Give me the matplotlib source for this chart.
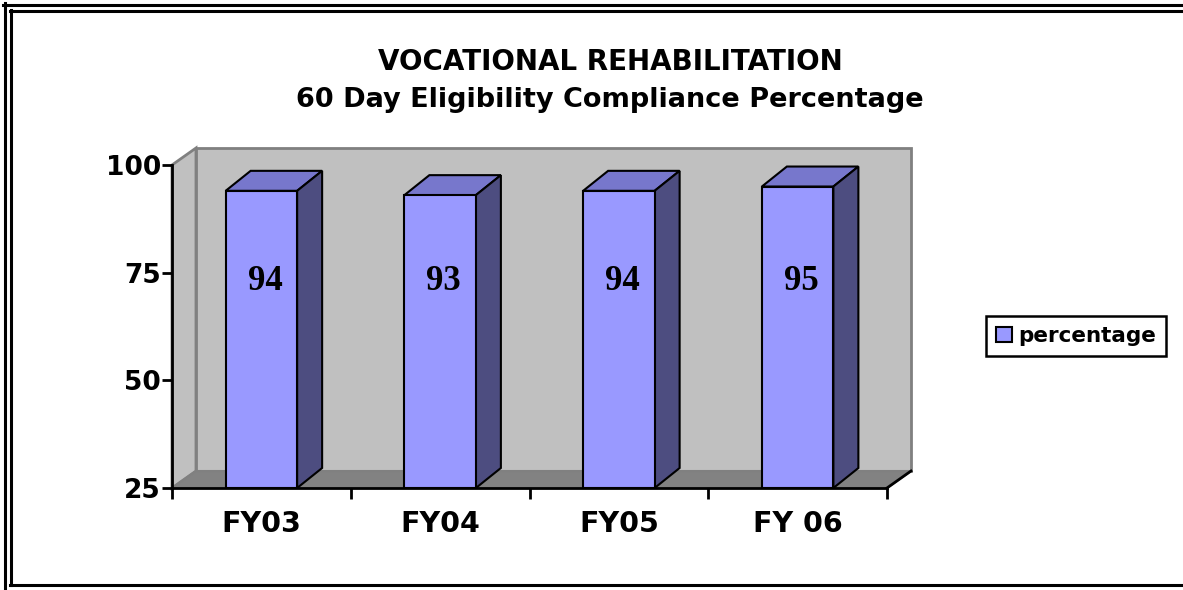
import numpy as np
import matplotlib
matplotlib.use('Agg')
import matplotlib.pyplot as plt
from matplotlib.patches import Polygon, Rectangle
from matplotlib.lines import Line2D

# Chart data
categories = ['FY03', 'FY04', 'FY05', 'FY06']
tick_labels = ['FY03', 'FY04', 'FY05', 'FY 06']
percentage = [94, 93, 94, 95]
y_ticks = [25, 50, 75, 100]

title_line1 = 'VOCATIONAL REHABILITATION'
title_line2 = '60 Day Eligibility Compliance Percentage'

plt.rcParams['font.family'] = ['DejaVu Sans']

W, H = 1183, 590
fig = plt.figure(figsize=(W / 100, H / 100), dpi=100)

# front plane of the 3D box, in figure pixels
left_px, right_px, top_px, bottom_px = 172, 887, 165, 488
ax = fig.add_axes([left_px / W, 1 - bottom_px / H,
                   (right_px - left_px) / W, (bottom_px - top_px) / H])
ymin, ymax = 25, 100
n = len(categories)
ax.set_xlim(0, n)
ax.set_ylim(ymin, ymax)

# depth offsets converted from pixels to data units
px_x = n / (right_px - left_px)
px_y = (ymax - ymin) / (bottom_px - top_px)
wdx, wdy = 24 * px_x, 17 * px_y   # walls / floor
bdx, bdy = 25 * px_x, 20 * px_y   # bars

wall_col = '#C0C0C0'
floor_col = '#828282'
edge_gray = '#808080'

# left side wall
ax.add_patch(Polygon([(0, ymin), (0, ymax), (wdx, ymax + wdy), (wdx, ymin + wdy)],
                     closed=True, facecolor=wall_col, edgecolor=edge_gray,
                     linewidth=2, clip_on=False, zorder=0.5))
# back wall
ax.add_patch(Rectangle((wdx, ymin + wdy), n, ymax - ymin, facecolor=wall_col,
                       edgecolor=edge_gray, linewidth=2, clip_on=False, zorder=0.6))
# floor
ax.add_patch(Polygon([(0, ymin), (n, ymin), (n + wdx, ymin + wdy), (wdx, ymin + wdy)],
                     closed=True, facecolor=floor_col, edgecolor=edge_gray,
                     linewidth=1.5, clip_on=False, zorder=0.7))
ax.plot([n, n + wdx], [ymin, ymin + wdy], color='black', linewidth=2,
        clip_on=False, zorder=0.8)

# bars
front_col = '#9999FF'
top_col = '#7777CC'
side_col = '#4D4D80'
width = 0.4
x = np.arange(n) + 0.5
vals = np.array(percentage, dtype=float)
ax.bar(x, vals - ymin, bottom=ymin, width=width, color=front_col,
       edgecolor='black', linewidth=1.5, zorder=3, label='percentage')
for xc, v in zip(x, vals):
    x0, x1 = xc - width / 2, xc + width / 2
    ax.add_patch(Polygon([(x0, v), (x1, v), (x1 + bdx, v + bdy), (x0 + bdx, v + bdy)],
                         closed=True, facecolor=top_col, edgecolor='black',
                         linewidth=1.5, clip_on=False, zorder=2))
    ax.add_patch(Polygon([(x1, ymin), (x1, v), (x1 + bdx, v + bdy), (x1 + bdx, ymin + bdy)],
                         closed=True, facecolor=side_col, edgecolor='black',
                         linewidth=1.5, clip_on=False, zorder=2))
    ax.text(xc + 0.02, 73, f'{v:.0f}', ha='center', va='center',
            fontsize=25, fontweight='bold', family='Liberation Serif', zorder=4)

# axes styling
ax.set_facecolor('none')
for s in ['top', 'right']:
    ax.spines[s].set_visible(False)
for s in ['left', 'bottom']:
    ax.spines[s].set_linewidth(2)
    ax.spines[s].set_zorder(5)
ax.set_yticks(y_ticks)
ax.set_yticklabels([str(t) for t in y_ticks], fontsize=19, fontweight='bold')
ax.tick_params(axis='y', direction='out', length=7, width=2, pad=1)
ax.set_xticks(np.arange(n + 1))
ax.set_xticklabels([])
ax.tick_params(axis='x', which='major', direction='out', length=8, width=2)
ax.set_xticks(x, minor=True)
ax.set_xticklabels(tick_labels, minor=True, fontsize=20.5, fontweight='bold')
ax.tick_params(axis='x', which='minor', length=0, pad=16)

# title
fig.text(610 / W, 1 - 62 / H, title_line1, ha='center', va='center',
         fontsize=20, fontweight='bold')
fig.text(610 / W, 1 - 100 / H, title_line2, ha='center', va='center',
         fontsize=19.5, fontweight='bold')

# legend
leg = fig.legend(loc='center', bbox_to_anchor=(1076 / W, 1 - 336 / H),
                 prop={'size': 15.5, 'weight': 'bold'}, fancybox=False,
                 edgecolor='black', framealpha=1, handlelength=0.75,
                 handleheight=0.75, handletextpad=0.3, borderpad=0.45,
                 borderaxespad=0)
leg.get_frame().set_linewidth(1.8)

# double border around the chart area
def hline(y, x0, x1, lw):
    fig.add_artist(Line2D([x0 / W, x1 / W], [1 - y / H, 1 - y / H],
                          color='black', linewidth=lw))

def vline(xp, y0, y1, lw):
    fig.add_artist(Line2D([xp / W, xp / W], [1 - y0 / H, 1 - y1 / H],
                          color='black', linewidth=lw))

vline(4.5, 3, H, 2.2)
hline(4.5, 3, W, 2.2)
vline(10.5, 10, 585, 2.2)
hline(10.5, 10, W, 2.2)
hline(585, 10, W, 2.2)

fig.savefig('out.png', dpi=100)
